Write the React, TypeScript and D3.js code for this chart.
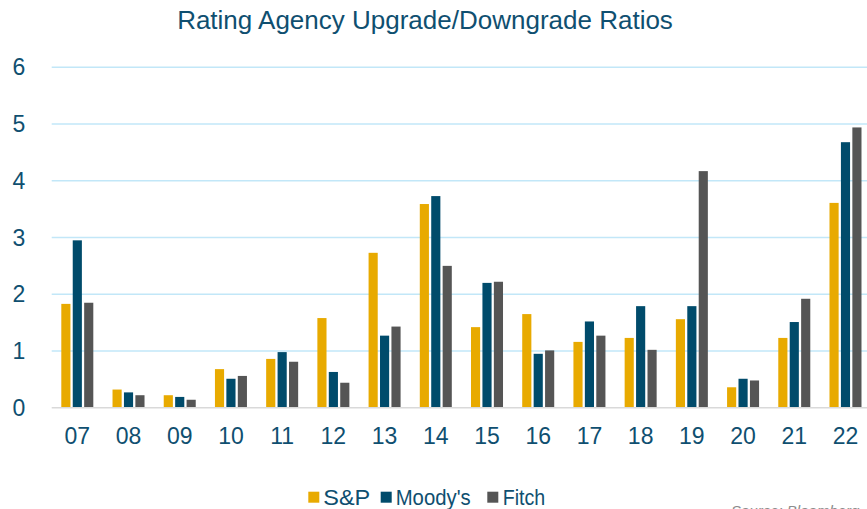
import React from "react";
import * as d3 from "d3";

const categories = ["07", "08", "09", "10", "11", "12", "13", "14", "15", "16", "17", "18", "19", "20", "21", "22"];
const seriesNames = ["S&P", "Moody's", "Fitch"];
const spValues = [1.83, 0.32, 0.22, 0.68, 0.86, 1.58, 2.73, 3.59, 1.42, 1.65, 1.16, 1.23, 1.56, 0.36, 1.23, 3.61];
const moodysValues = [2.95, 0.27, 0.19, 0.51, 0.98, 0.63, 1.27, 3.73, 2.2, 0.95, 1.52, 1.79, 1.79, 0.51, 1.51, 4.68];
const fitchValues = [1.85, 0.22, 0.14, 0.56, 0.81, 0.44, 1.43, 2.5, 2.22, 1.01, 1.27, 1.02, 4.17, 0.48, 1.92, 4.94];
const yTicks = [0, 1, 2, 3, 4, 5, 6];
const colors = ["#E8AA00", "#004B6B", "#555555"];

const W = 867;
const H = 509;
const TEXT = "#0F4F70";
const FONT = "'Liberation Sans', Arial, sans-serif";

export default function App() {
  const series = [spValues, moodysValues, fitchValues];
  const x = d3.scaleBand<string>().domain(categories).range([51.7, 871.1]).paddingInner(0).paddingOuter(0);
  const inner = d3.scaleBand<number>().domain([0, 1, 2]).range([-16, 16]).paddingInner(0.2).paddingOuter(0);
  const y = d3.scaleLinear().domain([0, 6]).range([407.7, 67.3]);

  const legendItems = [
    { sq: 308.3, tx: 323.3, len: 47 },
    { sq: 380.7, tx: 395.7, len: 75 },
    { sq: 487.3, tx: 502.7, len: 42.5 },
  ];

  return (
    <svg width={W} height={H} style={{ position: "absolute", left: 0, top: 0, display: "block" }} fontFamily={FONT}>
      <rect x={0} y={0} width={W} height={H} fill="#ffffff" />
      <text x={425} y={28.5} textAnchor="middle" fontSize={26} fill={TEXT}>
        Rating Agency Upgrade/Downgrade Ratios
      </text>
      {yTicks.filter((t) => t > 0).map((t) => (
        <line key={"g" + t} x1={51.7} x2={W} y1={y(t)} y2={y(t)} stroke="#C2E7F8" strokeWidth={1.6} />
      ))}
      {yTicks.map((t) => (
        <text key={"yl" + t} x={19} y={y(t) + 8} textAnchor="middle" fontSize={23} fill={TEXT}>
          {t}
        </text>
      ))}
      {categories.map((c, i) => {
        const cx = (x(c) as number) + x.bandwidth() / 2;
        return (
          <g key={c}>
            {series.map((s, k) => (
              <rect
                key={k}
                x={cx + (inner(k) as number)}
                y={y(s[i])}
                width={inner.bandwidth()}
                height={y(0) - y(s[i])}
                fill={colors[k]}
              />
            ))}
            <text x={cx} y={443.5} textAnchor="middle" fontSize={23} fill={TEXT}>
              {c}
            </text>
          </g>
        );
      })}
      <line x1={51.7} x2={W} y1={y(0)} y2={y(0)} stroke="#D9D9D9" strokeWidth={1.5} />
      {seriesNames.map((n, k) => (
        <g key={n}>
          <rect x={legendItems[k].sq} y={491.7} width={11} height={11} fill={colors[k]} />
          <text
            x={legendItems[k].tx}
            y={505}
            fontSize={22}
            fill={TEXT}
            textLength={legendItems[k].len}
            lengthAdjust="spacingAndGlyphs"
          >
            {n}
          </text>
        </g>
      ))}
      <text x={731} y={516} fontSize={15} fill="#8C8C8C" fontStyle="italic">
        Source: Bloomberg
      </text>
    </svg>
  );
}
